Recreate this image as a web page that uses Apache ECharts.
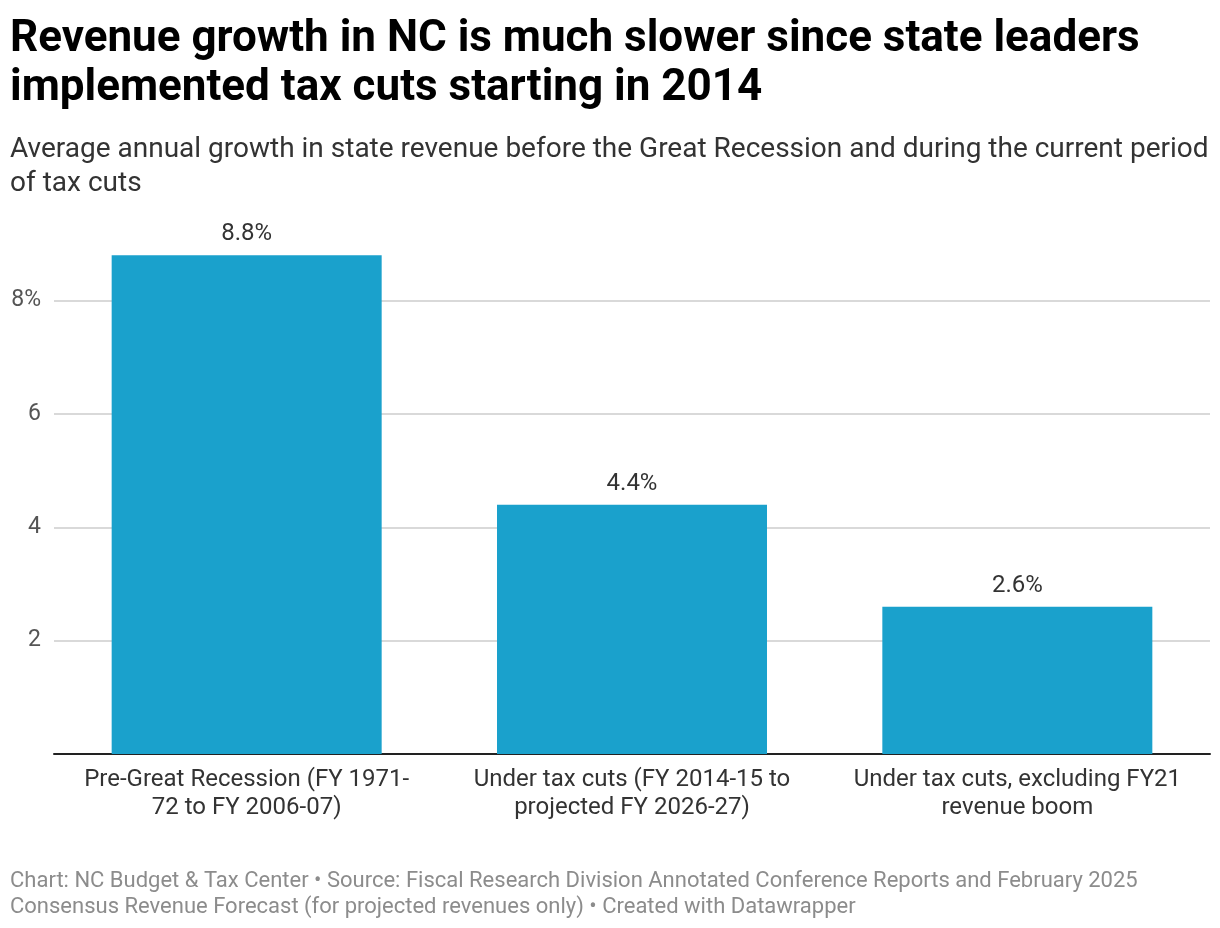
<!DOCTYPE html>
<html>
<head>
<meta charset="utf-8">
<script src="https://cdn.jsdelivr.net/npm/echarts@6/dist/echarts.min.js"></script>
<style>html,body{margin:0;padding:0;background:#fff}#c{width:1220px;height:928px}</style>
</head>
<body>
<div id="c"></div>
<script>
const categories = [
  "Pre-Great Recession (FY 1971-\n72 to FY 2006-07)",
  "Under tax cuts (FY 2014-15 to\nprojected FY 2026-27)",
  "Under tax cuts, excluding FY21\nrevenue boom"
];
const values = [8.8, 4.4, 2.6];
const tickValues = [2, 4, 6, 8];
const titleText = "Revenue growth in NC is much slower since state leaders\nimplemented tax cuts starting in 2014";
const subtitleText = "Average annual growth in state revenue before the Great Recession and during the current period\nof tax cuts";
const footerText = "Chart: NC Budget & Tax Center \u2022 Source: Fiscal Research Division Annotated Conference Reports and February 2025\nConsensus Revenue Forecast (for projected revenues only) \u2022 Created with Datawrapper";

const chart = echarts.init(document.getElementById('c'));
chart.setOption({
  animation: false,
  textStyle: { fontFamily: 'Roboto' },
  title: [
    { text: titleText, left: 5, top: 10, padding: 5,
      textStyle: { fontFamily: 'Roboto', fontWeight: 'bold', fontSize: 44, lineHeight: 49, color: '#000' } },
    { text: subtitleText, left: 5, top: 128, padding: 5,
      textStyle: { fontFamily: 'Roboto', fontWeight: 'normal', fontSize: 28, lineHeight: 34, color: '#333' } },
    { text: footerText, left: 5, top: 863, padding: 5,
      textStyle: { fontFamily: 'Roboto', fontWeight: 'normal', fontSize: 22, lineHeight: 26, color: '#8c8c8c' } }
  ],
  grid: { left: 54, right: 10, top: 244, bottom: 174, containLabel: false },
  xAxis: {
    type: 'category',
    data: categories,
    axisLine: { lineStyle: { color: '#222', width: 2 } },
    axisTick: { show: false },
    axisLabel: { color: '#333', fontSize: 24, lineHeight: 28, margin: 12, interval: 0, align: 'center' }
  },
  yAxis: {
    type: 'value',
    min: 0, max: 9,
    axisLine: { show: false },
    axisTick: { show: false, customValues: tickValues },
    axisLabel: {
      customValues: tickValues,
      color: '#555', fontSize: 23, margin: 13, padding: [3, 0, 0, 0],
      formatter: v => v === 8 ? '8%' : String(v)
    },
    splitLine: { show: true, lineStyle: { color: '#d9d9d9', width: 2 } }
  },
  series: [{
    type: 'bar',
    data: values,
    barWidth: 270,
    itemStyle: { color: '#1aa1cc' },
    label: { show: true, position: 'top', distance: 9, color: '#333', fontSize: 24,
      formatter: p => p.value.toFixed(1) + '%' }
  }]
});
</script>
</body>
</html>
